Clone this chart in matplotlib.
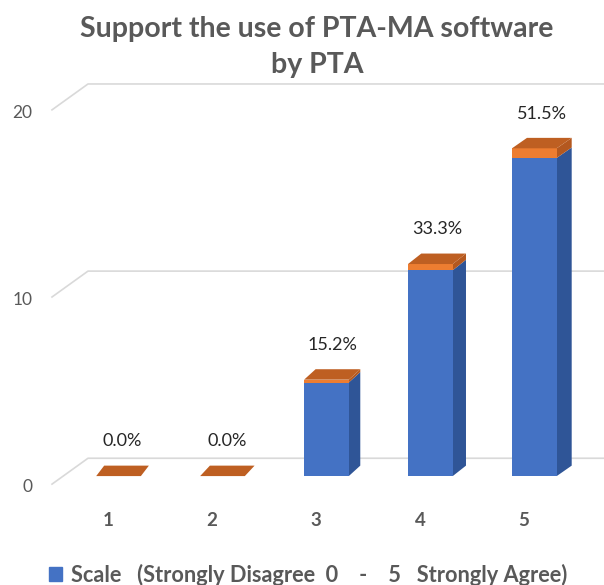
import numpy as np
import matplotlib.pyplot as plt
from matplotlib.patches import Polygon, Patch

categories = ['1', '2', '3', '4', '5']
counts = [0, 0, 5, 11, 17]
percent = [0.0, 0.0, 15.2, 33.3, 51.5]
yticks = [0, 10, 20]
title = 'Support the use of PTA-MA software\nby PTA'
legend_label = 'Scale   (Strongly Disagree  0    -    5   Strongly Agree)'

plt.rcParams['font.family'] = ['Lato', 'DejaVu Sans']

blue, blue_side = '#4472C4', '#2F5597'
orange, orange_side, orange_top = '#ED7D31', '#B4581F', '#BE5F22'
grid_col = '#D9D9D9'
text_grey = '#595959'

fig = plt.figure(figsize=(6.04, 5.85), dpi=100)
ax = fig.add_axes([52 / 604, 99 / 585, 552 / 604, 416 / 585])
ax.set_xlim(0.36, 5.67)
ax.set_ylim(-0.43, 21.70)
for s in ax.spines.values():
    s.set_visible(False)

px_x = 104.0   # pixels per x unit
px_y = 18.8    # pixels per y unit

# back wall / floor lines
x0, x1 = ax.get_xlim()
wall_dx = 36 / px_x
wall_dy = 26 / px_y
for v in yticks:
    ax.plot([x0, x0 + wall_dx, x1], [v - 0.43, v - 0.43 + wall_dy, v - 0.43 + wall_dy],
            color=grid_col, lw=1.2, zorder=1, clip_on=False)

x = np.arange(1, len(categories) + 1)
w = 0.43
caps = [p / 100 for p in percent]

ax.bar(x, counts, w, color=blue, zorder=3)
ax.bar(x, caps, w, bottom=counts, color=orange, zorder=3)

for i, (xi, c, p) in enumerate(zip(x, counts, caps)):
    dx = (8 + 1.75 * i) / px_x
    dy = 10.5 / px_y
    l, r = xi - w / 2, xi + w / 2
    top = c + p
    if c > 0:
        ax.add_patch(Polygon([(r, 0), (r + dx, dy), (r + dx, c + dy), (r, c)],
                             closed=True, color=blue_side, zorder=2, lw=0))
    if p > 0:
        ax.add_patch(Polygon([(r, c), (r + dx, c + dy), (r + dx, top + dy), (r, top)],
                             closed=True, color=orange_side, zorder=2, lw=0))
    ax.add_patch(Polygon([(l, top), (l + dx, top + dy), (r + dx, top + dy), (r, top)],
                         closed=True, color=orange_top, zorder=4, lw=0))
    ax.annotate(f'{percent[i]:.1f}%', (xi + dx / 2, top), xytext=(0, 25),
                textcoords='offset points', ha='center', va='center',
                fontsize=13, color='#262626')

ax.set_xticks(x - 0.1)
ax.set_xticklabels(categories, fontsize=13.5, fontweight='bold', color=text_grey)
ax.set_yticks([v - 0.53 for v in yticks])
ax.set_yticklabels([str(v) for v in yticks], fontsize=12.5, color=text_grey)
ax.tick_params(axis='x', length=0, pad=19)
ax.tick_params(axis='y', length=0, pad=14)

fig.text(0.525, 1 - 47 / 585, title, ha='center', va='center', fontsize=20.5,
         fontweight='bold', color=text_grey, linespacing=1.5)

fig.legend(handles=[Patch(color=blue)], labels=[legend_label], loc='center',
           bbox_to_anchor=(0.51, 10 / 585), frameon=False, handlelength=0.6,
           handleheight=0.6, handletextpad=0.4,
           prop={'weight': 'bold', 'size': 15.7}, labelcolor=text_grey)

fig.savefig('out.png', dpi=100)
